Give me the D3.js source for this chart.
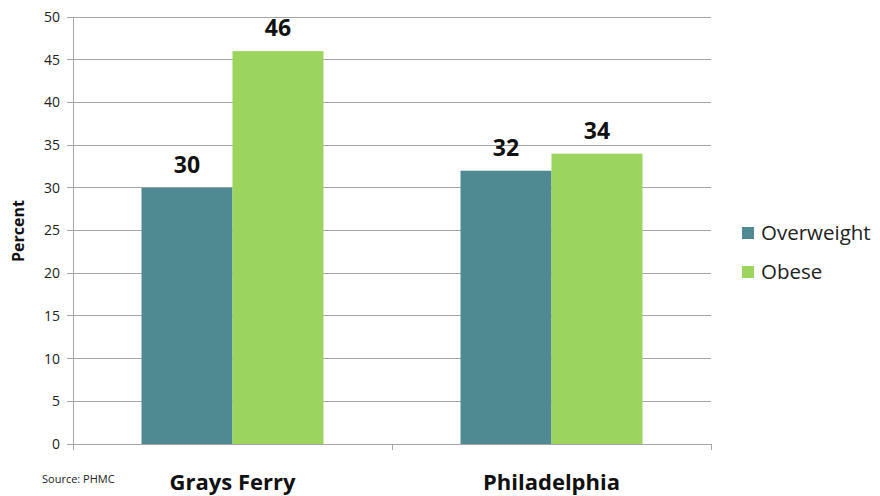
<!DOCTYPE html>
<html><head><meta charset="utf-8">
<script src="https://cdn.jsdelivr.net/npm/d3@7"></script>
<style>body{margin:0;background:#fff}svg{display:block}text{font-family:"Open Sans",Lato,sans-serif}</style>
</head><body><svg id="c" width="880" height="496"></svg>
<script>
const categories = ["Grays Ferry", "Philadelphia"];
const seriesNames = ["Overweight", "Obese"];
const overweight = [30, 32];
const obese = [46, 34];
const yTicks = [0, 5, 10, 15, 20, 25, 30, 35, 40, 45, 50];
const colors = ["#4F8A92", "#9BD55E"];

const svg = d3.select("#c");
const L = 73, R = 711, T = 17, B = 444;
const x = d3.scaleBand().domain(categories).range([L, R]).paddingInner(0).paddingOuter(0);
const xs = d3.scaleBand().domain(seriesNames).range([0, x.bandwidth()]).paddingInner(0).paddingOuter(0.753);
const y = d3.scaleLinear().domain([0, 50]).range([B, T]);

// gridlines
svg.append("g").selectAll("line").data(yTicks).join("line")
  .attr("x1", L - 6).attr("x2", R).attr("y1", d => y(d)).attr("y2", d => y(d))
  .attr("stroke", "#a6a6a6").attr("stroke-width", 1).attr("shape-rendering", "crispEdges");
svg.append("line").attr("x1", L).attr("x2", L).attr("y1", T).attr("y2", B)
  .attr("stroke", "#a6a6a6").attr("shape-rendering", "crispEdges");
// category tick marks
const bounds = [L, x(categories[1]), R];
svg.append("g").selectAll("line").data(bounds).join("line")
  .attr("x1", d => d).attr("x2", d => d).attr("y1", B).attr("y2", B + 6)
  .attr("stroke", "#a6a6a6").attr("shape-rendering", "crispEdges");

// y tick labels
svg.append("g").selectAll("text").data(yTicks).join("text")
  .attr("x", L - 13).attr("y", d => y(d)).attr("dy", "0.35em")
  .attr("text-anchor", "end").attr("font-size", 14).attr("fill", "#222").text(d => d);

// bars
const data = categories.map((c, i) => ({ c, vals: [overweight[i], obese[i]] }));
const g = svg.append("g").selectAll("g").data(data).join("g")
  .attr("transform", d => `translate(${x(d.c)},0)`);
g.selectAll("rect").data(d => d.vals.map((v, j) => ({ v, s: seriesNames[j], j })))
  .join("rect")
  .attr("x", d => xs(d.s)).attr("width", xs.bandwidth())
  .attr("y", d => y(d.v)).attr("height", d => B - y(d.v))
  .attr("fill", d => colors[d.j]);
g.selectAll("text").data(d => d.vals.map((v, j) => ({ v, s: seriesNames[j], j })))
  .join("text")
  .attr("x", d => xs(d.s) + xs.bandwidth() / 2).attr("y", d => y(d.v) - 15)
  .attr("text-anchor", "middle").attr("font-size", 23).attr("font-weight", "bold")
  .attr("fill", "#111").text(d => d.v);

// category labels
svg.append("g").selectAll("text").data(categories).join("text")
  .attr("x", d => x(d) + x.bandwidth() / 2).attr("y", 490)
  .attr("text-anchor", "middle").attr("font-size", 22).attr("font-weight", "bold")
  .attr("fill", "#111").text(d => d);

// y title
svg.append("text").attr("transform", "translate(24,231) rotate(-90)")
  .attr("text-anchor", "middle").attr("font-size", 16).attr("font-weight", "bold")
  .attr("fill", "#111").text("Percent");

// legend
const lg = svg.append("g").selectAll("g").data(seriesNames).join("g")
  .attr("transform", (d, i) => `translate(742,${227 + i * 39})`);
lg.append("rect").attr("width", 12).attr("height", 12).attr("fill", (d, i) => colors[i]);
lg.append("text").attr("x", 19).attr("y", 6).attr("dy", "0.35em")
  .attr("font-size", 20.5).attr("fill", "#222").text(d => d);

// source
svg.append("text").attr("x", 42).attr("y", 483).attr("font-size", 11).attr("fill", "#222").text("Source: PHMC");
</script></body></html>
